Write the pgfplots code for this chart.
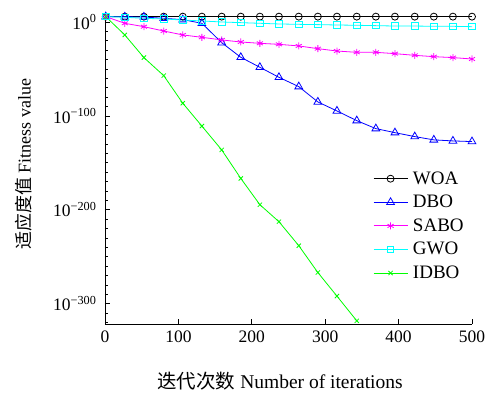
\documentclass[border=0pt]{standalone}
\usepackage{pgfplots}
\pgfplotsset{compat=1.18}
\usepackage{fontspec}
\setmainfont{Liberation Serif}
\newfontfamily\cjk{Noto Sans CJK SC}
\definecolor{cWOA}{RGB}{0,0,0}
\definecolor{cDBO}{RGB}{0,0,255}
\definecolor{cSABO}{RGB}{255,0,255}
\definecolor{cGWO}{RGB}{0,255,255}
\definecolor{cIDBO}{RGB}{0,255,0}
\begin{document}
\begin{tikzpicture}
\path[use as bounding box] (-105pt,-68pt) rectangle (382pt,324pt);
\begin{axis}[
  at={(0,0)}, anchor=south west,
  scale only axis, width=367pt, height=310pt,
  xmin=0, xmax=500, ymin=-321.5, ymax=8.5,
  axis x line*=bottom, axis y line*=left,
  axis line style={line width=0.8pt},
  tick align=inside,
  major tick length=5pt, minor tick length=3pt,
  tick style={line width=0.8pt, black},
  xtick={0,100,200,300,400,500},
  xticklabels={0,100,200,300,400,500},
  ytick={-300,-200,-100,0},
  yticklabels={10\textsuperscript{−300},10\textsuperscript{−200},10\textsuperscript{−100},10\textsuperscript{0}},
  minor ytick={-320,-310,...,0},
  ticklabel style={font=\fontsize{17.5}{20}\selectfont},
  xticklabel style={yshift=-3pt},
  yticklabel style={xshift=-5pt},
  xlabel={{\cjk 迭代次数} Number of iterations},
  ylabel={{\cjk 适应度值} Fitness value},
  xlabel style={font=\fontsize{19.5}{22}\selectfont, at={(axis description cs:0.477,-0.184)}, anchor=center},
  ylabel style={font=\fontsize{18}{22}\selectfont, at={(axis description cs:-0.221,0.516)}, anchor=center},
  clip=false,
  legend style={at={(axis description cs:0.722,0.505)}, anchor=north west, draw=none, fill=none,
    font=\fontsize{19}{22}\selectfont, row sep=5.5pt, legend cell align=left,
    /tikz/every odd column/.append style={column sep=3pt}},
  legend image code/.code={\draw[mark repeat=2,mark phase=2] plot coordinates {(0pt,0pt) (17pt,0pt) (34pt,0pt)};},
  every axis plot/.append style={line width=0.8pt},
]
\addplot[cWOA, mark=o, mark size=3.5pt] coordinates {
(1,5.7)(27,5.7)(53,5.7)(80,5.7)(106,5.7)(132,5.7)(159,5.7)(185,5.7)(211,5.7)(237,5.7)
(264,5.7)(290,5.7)(316,5.7)(343,5.7)(369,5.7)(395,5.7)(422,5.7)(448,5.7)(474,5.7)(500,5.7)};
\addlegendentry{WOA}
\addplot[cDBO, mark=triangle, mark size=4.5pt] coordinates {
(1,5.7)(27,5.5)(53,5.3)(80,3.9)(106,2.5)(132,-1.4)(159,-22)(185,-37.6)(211,-48.2)(237,-58.9)
(264,-68.8)(290,-85.1)(316,-94.7)(343,-105)(369,-113.5)(395,-117.8)(422,-122)(448,-125.5)(474,-126.6)(500,-127.3)};
\addlegendentry{DBO}
\addplot[cSABO, mark=asterisk, mark size=3.5pt] coordinates {
(1,5.7)(27,-1.4)(53,-5.0)(80,-9.6)(106,-13.8)(132,-16.3)(159,-19.1)(185,-21.3)(211,-22.7)(237,-23.8)
(264,-25.5)(290,-28.4)(316,-30.9)(343,-32.3)(369,-32.3)(395,-33.7)(422,-35.5)(448,-36.9)(474,-37.9)(500,-39.4)};
\addlegendentry{SABO}
\addplot[cGWO, mark=square, mark size=3.2pt] coordinates {
(1,5.7)(27,5.0)(53,3.9)(80,3.2)(106,2.1)(132,1.1)(159,0)(185,-0.7)(211,-1.4)(237,-2.1)
(264,-2.5)(290,-2.8)(316,-3.2)(343,-3.5)(369,-3.9)(395,-4.3)(422,-4.3)(448,-4.6)(474,-4.6)(500,-5.0)};
\addlegendentry{GWO}
\addplot[cIDBO, mark=x, mark size=3pt] coordinates {
(1,5.7)(27,-13.8)(53,-37.9)(80,-57.1)(106,-86.5)(132,-110.8)(159,-136.2)(185,-166.5)(211,-194.5)(237,-212.6)
(264,-238.1)(290,-266.7)(316,-291.8)(343,-318.1)};
\addlegendentry{IDBO}
\end{axis}
\end{tikzpicture}
\end{document}
